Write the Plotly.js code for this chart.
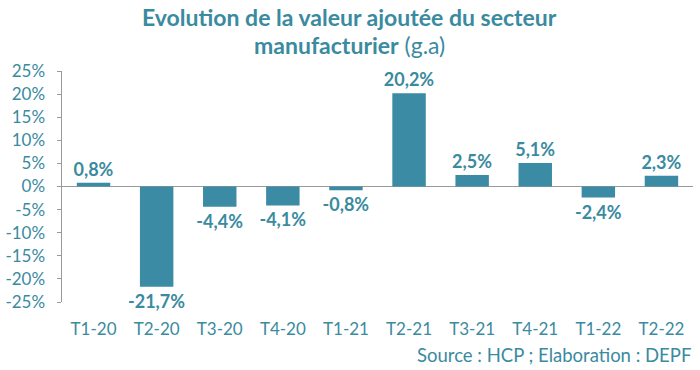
<!DOCTYPE html>
<html><head><meta charset="utf-8">
<script src="https://cdn.plot.ly/plotly-3.0.1.min.js"></script>
<style>html,body{margin:0;padding:0;background:#fff}#chart{width:700px;height:370px}</style>
</head><body><div id="chart"></div>
<script>
const categories = ["T1-20","T2-20","T3-20","T4-20","T1-21","T2-21","T3-21","T4-21","T1-22","T2-22"];
const values = [0.8, -21.7, -4.4, -4.1, -0.8, 20.2, 2.5, 5.1, -2.4, 2.3];
const yTicks = [25, 20, 15, 10, 5, 0, -5, -10, -15, -20, -25];

const teal = "#3a8ba3";
const textTeal = "#3a8aa0";
const fontFam = "Lato, 'Open Sans', sans-serif";

const trace = {
  type: "bar",
  x: categories,
  y: values,
  marker: {color: teal},
  width: 0.53,
  texttemplate: "<b>%{y:.1f}%</b>",
  textposition: "outside",
  constraintext: "none",
  textfont: {family: fontFam, size: 18, color: textTeal},
  cliponaxis: false,
  hoverinfo: "skip"
};

const layout = {
  width: 700, height: 370,
  margin: {l: 62, r: 7, t: 71, b: 68},
  paper_bgcolor: "#fff", plot_bgcolor: "#fff",
  separators: ",.",
  showlegend: false,
  font: {family: fontFam, color: textTeal},
  xaxis: {
    type: "category",
    showgrid: false, showline: false, zeroline: false,
    ticks: "outside", ticklen: 12, tickcolor: "rgba(0,0,0,0)",
    tickfont: {family: fontFam, size: 17, color: textTeal}
  },
  yaxis: {
    range: [-25, 25],
    tickvals: yTicks,
    ticktext: yTicks.map(v => v + "%"),
    showgrid: false,
    showline: true, linecolor: "#9a9a9a", linewidth: 1.5,
    ticks: "outside", ticklen: 4, tickcolor: "#9a9a9a",
    ticklabelstandoff: 8,
    zeroline: true, zerolinecolor: "#9a9a9a", zerolinewidth: 1.5,
    tickfont: {family: fontFam, size: 17, color: textTeal}
  },
  annotations: [
    {
      text: "<b>Evolution de la valeur ajoutée du secteur</b>",
      xref: "paper", yref: "paper", x: 0.456, y: 1, xanchor: "center", yanchor: "middle",
      yshift: 54, showarrow: false,
      font: {family: fontFam, size: 23, color: textTeal}
    },
    {
      text: "<b>manufacturier</b> (g.a)",
      xref: "paper", yref: "paper", x: 0.456, y: 1, xanchor: "center", yanchor: "middle",
      yshift: 26, showarrow: false,
      font: {family: fontFam, size: 23, color: textTeal}
    },
    {
      text: "Source : HCP ; Elaboration : DEPF",
      xref: "paper", yref: "paper", x: 1, y: 0, xanchor: "right", yanchor: "middle",
      yshift: -53, showarrow: false,
      font: {family: fontFam, size: 18.5, color: textTeal}
    }
  ]
};

Plotly.newPlot("chart", [trace], layout, {displayModeBar: false, staticPlot: true});
</script></body></html>
